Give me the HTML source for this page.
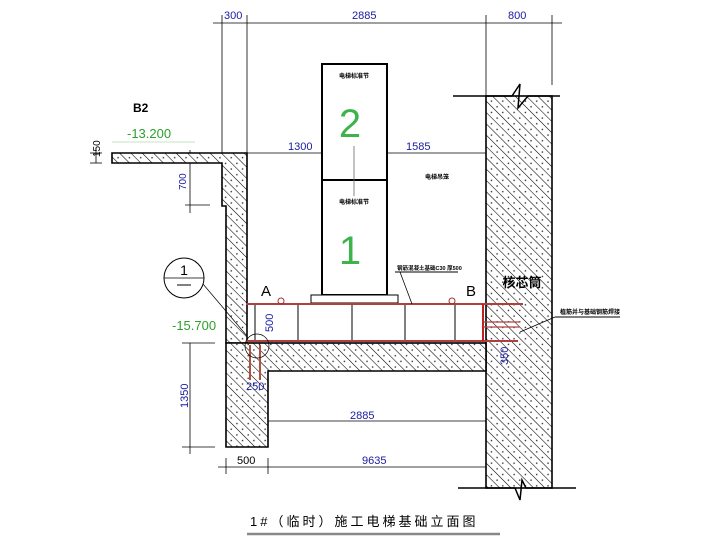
<!DOCTYPE html>
<html><head><meta charset="utf-8"><style>
html,body{margin:0;padding:0;background:#fff;}
svg{display:block;}
text{font-family:"Liberation Sans","Noto Sans CJK SC",sans-serif;}
</style></head><body>
<svg width="716" height="543" viewBox="0 0 716 543" xmlns="http://www.w3.org/2000/svg">
<defs>
<pattern id="h" width="8" height="8" patternUnits="userSpaceOnUse" patternTransform="rotate(-45)">
<rect width="8" height="8" fill="#fff"/>
<line x1="0" y1="0" x2="0" y2="8" stroke="#000" stroke-width="1.1"/>
<circle cx="4" cy="3" r="0.8" fill="#222"/>
</pattern>
</defs>
<g stroke="#000" stroke-width="0.8" fill="none">
<line x1="213" y1="23" x2="562" y2="23"/>
<line x1="222" y1="15" x2="222" y2="153"/>
<line x1="247" y1="15" x2="247" y2="153"/>
<line x1="486" y1="15" x2="486" y2="96"/>
<line x1="552" y1="15" x2="552" y2="85"/>
<line x1="112" y1="153" x2="486" y2="153"/>
<line x1="354" y1="145" x2="354" y2="196"/>
<line x1="96" y1="148" x2="96" y2="163"/>
<line x1="90" y1="153" x2="102" y2="153"/>
<line x1="90" y1="163" x2="102" y2="163"/>
<line x1="190" y1="150" x2="190" y2="213"/>
<line x1="185" y1="205" x2="210" y2="205"/>
<line x1="190" y1="343" x2="190" y2="454"/>
<line x1="182" y1="343" x2="215" y2="343"/>
<line x1="182" y1="447" x2="215" y2="447"/>
<line x1="218" y1="467" x2="486" y2="467"/>
<line x1="226" y1="458" x2="226" y2="474"/>
<line x1="268" y1="458" x2="268" y2="474"/>
<line x1="268" y1="421" x2="486" y2="421"/>
<line x1="508" y1="343" x2="508" y2="378"/>
</g>
<rect x="486" y="96" width="66" height="392" fill="url(#h)" stroke="#000" stroke-width="1.6"/>
<path d="M453 96 H512 L520 84 L518 108 L528 96 H560" fill="none" stroke="#000" stroke-width="1.5"/>
<path d="M458 488 H515 L520 500 L522 480 L526 488 H576" fill="none" stroke="#000" stroke-width="1.5"/>
<path d="M112 153 H247 V343 H226 V206 H222 V163 H112 Z" fill="url(#h)" stroke="#000" stroke-width="1.6"/>
<path d="M226 343 H486 V371 H268 V447 H226 Z" fill="url(#h)" stroke="#000" stroke-width="1.6"/>
<line x1="247" y1="343" x2="486" y2="343" stroke="#000" stroke-width="1.2"/>
<rect x="322" y="64" width="65" height="231" fill="#fff" stroke="#000" stroke-width="2"/>
<line x1="322" y1="180" x2="387" y2="180" stroke="#000" stroke-width="2"/>
<line x1="354" y1="146" x2="354" y2="196" stroke="#666" stroke-width="0.8"/>
<rect x="311" y="295" width="87" height="8" fill="#fff" stroke="#000" stroke-width="1"/>
<text x="354" y="78" font-size="6" text-anchor="middle" font-weight="bold">电梯标准节</text>
<text x="354" y="204" font-size="6" text-anchor="middle" font-weight="bold">电梯标准节</text>
<text x="350" y="137" font-size="40" fill="#3cb44b" text-anchor="middle">2</text>
<text x="350" y="264" font-size="40" fill="#3cb44b" text-anchor="middle">1</text>
<text x="437" y="179" font-size="6" text-anchor="middle" font-weight="bold">电梯吊笼</text>
<g stroke="#000" stroke-width="1">
<line x1="255" y1="304" x2="255" y2="342"/>
<line x1="298" y1="304" x2="298" y2="342"/>
<line x1="352" y1="304" x2="352" y2="342"/>
<line x1="405" y1="304" x2="405" y2="342"/>
<line x1="455" y1="304" x2="455" y2="342"/>
</g>
<line x1="246" y1="304" x2="523" y2="304" stroke="#b04040" stroke-width="2"/>
<line x1="246" y1="341" x2="518" y2="341" stroke="#b04040" stroke-width="2"/>
<line x1="483" y1="304" x2="483" y2="341" stroke="#c02020" stroke-width="2"/>
<line x1="483" y1="322" x2="520" y2="322" stroke="#b04040" stroke-width="1.2"/>
<line x1="483" y1="327" x2="520" y2="327" stroke="#b04040" stroke-width="1.2"/>
<line x1="250" y1="345" x2="250" y2="380" stroke="#b05040" stroke-width="2"/>
<line x1="260" y1="345" x2="260" y2="380" stroke="#b05040" stroke-width="2"/>
<circle cx="281" cy="301" r="3" fill="none" stroke="#a03030"/>
<circle cx="452" cy="301" r="3" fill="none" stroke="#a03030"/>
<circle cx="257" cy="346" r="12" fill="none" stroke="#000" stroke-width="0.7"/>
<path d="M395 272 H458" stroke="#000" stroke-width="1"/>
<path d="M400 272 L412 304" stroke="#000" stroke-width="0.8"/>
<text x="397" y="270" font-size="5.5" font-weight="bold">钢筋混凝土基础C30 厚500</text>
<path d="M555 317 H620" stroke="#000" stroke-width="1"/>
<path d="M555 317 L520 332" stroke="#000" stroke-width="0.8"/>
<text x="560" y="314" font-size="6" font-weight="bold">植筋并与基础钢筋焊接</text>
<text x="522" y="287" font-size="13" font-weight="bold" text-anchor="middle">核芯筒</text>
<circle cx="184" cy="278" r="20" fill="none" stroke="#000" stroke-width="1"/>
<line x1="164" y1="278" x2="204" y2="278" stroke="#000" stroke-width="0.8"/>
<line x1="177" y1="285" x2="191" y2="285" stroke="#000" stroke-width="1"/>
<text x="184" y="275" font-size="14" text-anchor="middle">1</text>
<line x1="203" y1="284" x2="247" y2="336" stroke="#000" stroke-width="0.7"/>
<text x="261" y="296" font-size="15" font-family="Liberation Serif">A</text>
<text x="466" y="296" font-size="15" font-family="Liberation Serif">B</text>
<text x="133" y="112" font-size="12" font-weight="bold">B2</text>
<text x="127" y="138" font-size="13" fill="#2ca02c">-13.200</text>
<line x1="112" y1="142" x2="195" y2="142" stroke="#8c8" stroke-width="0.6"/>
<text x="172" y="330" font-size="13" fill="#2ca02c">-15.700</text>
<g fill="#1a1aa0" font-size="11">
<text x="224" y="19">300</text>
<text x="352" y="19">2885</text>
<text x="508" y="19">800</text>
<text x="288" y="150">1300</text>
<text x="406" y="150">1585</text>
<text x="350" y="419">2885</text>
<text x="362" y="464">9635</text>
<text x="237" y="464" fill="#000">500</text>
<text x="246" y="390">250</text>
<text transform="translate(100,157) rotate(-90)" font-size="10" fill="#000">150</text>
<text transform="translate(186,190) rotate(-90)" font-size="10">700</text>
<text transform="translate(188,408) rotate(-90)">1350</text>
<text transform="translate(273,332) rotate(-90)">500</text>
<text transform="translate(508,365) rotate(-90)">350</text>
</g>
<text x="250" y="526" font-size="13" letter-spacing="3">1#（临时）施工电梯基础立面图</text>
<line x1="247" y1="534" x2="500" y2="534" stroke="#888" stroke-width="2.5"/>
</svg>
</body></html>
